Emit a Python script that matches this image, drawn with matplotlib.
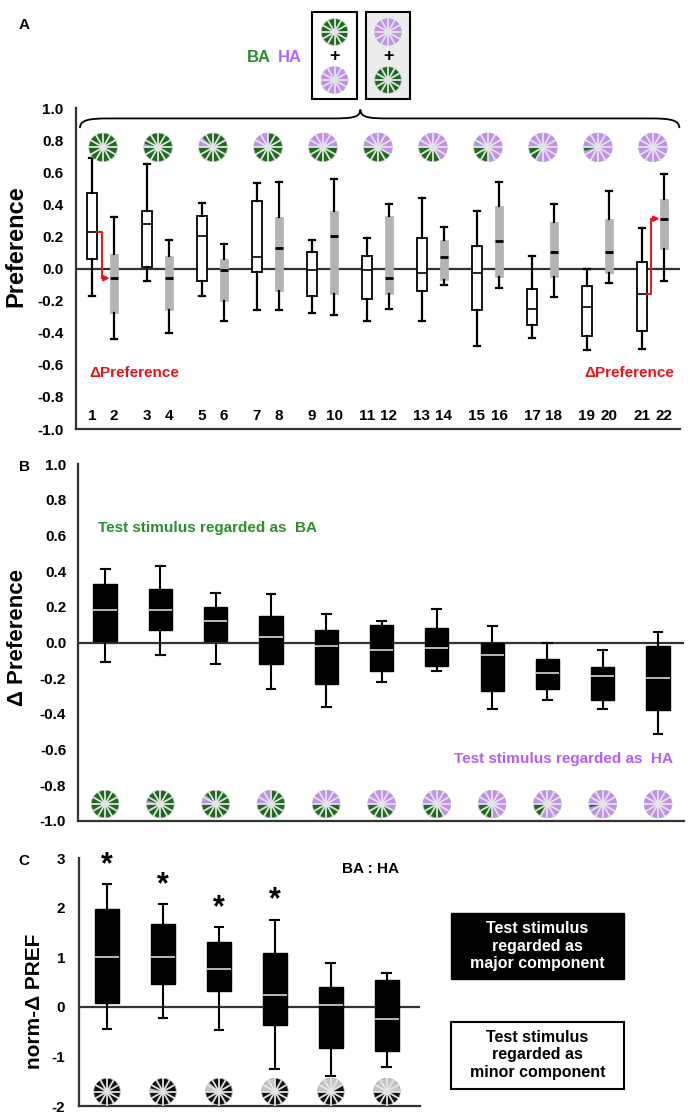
import numpy as np
import matplotlib
matplotlib.use("Agg")
from matplotlib import pyplot as plt
from matplotlib.patches import Circle, Wedge, Rectangle, PathPatch
from matplotlib.path import Path

plt.rcParams['font.family'] = ['Liberation Sans', 'DejaVu Sans']
plt.rcParams['font.weight'] = 'bold'

# ---- data ----
# panel A: white = test stimulus, gray = paired stimulus (whislo, q1, med, q3, whishi)
a_white = [
    [-0.17, 0.06, 0.23, 0.47, 0.69],
    [-0.08, 0.01, 0.28, 0.36, 0.65],
    [-0.17, -0.08, 0.20, 0.33, 0.41],
    [-0.26, -0.02, 0.07, 0.42, 0.53],
    [-0.28, -0.17, -0.01, 0.10, 0.18],
    [-0.33, -0.19, -0.01, 0.08, 0.19],
    [-0.33, -0.14, -0.03, 0.19, 0.44],
    [-0.48, -0.26, -0.03, 0.14, 0.36],
    [-0.43, -0.35, -0.25, -0.13, 0.08],
    [-0.51, -0.42, -0.24, -0.11, 0.00],
    [-0.50, -0.39, -0.16, 0.04, 0.25],
]
a_gray = [
    [-0.44, -0.28, -0.06, 0.09, 0.32],
    [-0.40, -0.26, -0.06, 0.08, 0.18],
    [-0.33, -0.20, -0.01, 0.06, 0.15],
    [-0.26, -0.14, 0.13, 0.32, 0.54],
    [-0.29, -0.16, 0.20, 0.36, 0.56],
    [-0.25, -0.16, -0.06, 0.33, 0.40],
    [-0.10, -0.07, 0.07, 0.18, 0.26],
    [-0.12, -0.05, 0.17, 0.39, 0.54],
    [-0.18, -0.05, 0.10, 0.29, 0.40],
    [-0.09, -0.03, 0.10, 0.31, 0.48],
    [-0.08, 0.12, 0.31, 0.43, 0.59],
]
a_labels = ["1", "2", "3", "4", "5", "6", "7", "8", "9", "10", "11",
            "12", "13", "14", "15", "16", "17", "18", "19", "20", "21", "22"]
# fraction of HA (purple) in each test stimulus
ha_fraction = [0.0, 0.04, 0.12, 0.25, 0.5, 0.58, 0.67, 0.75, 0.83, 0.96, 1.0]

# panel B: delta preference
b_stats = [
    [-0.11, 0.01, 0.18, 0.33, 0.41],
    [-0.07, 0.07, 0.18, 0.30, 0.43],
    [-0.12, 0.01, 0.12, 0.20, 0.28],
    [-0.26, -0.12, 0.03, 0.15, 0.27],
    [-0.36, -0.23, -0.02, 0.07, 0.16],
    [-0.22, -0.16, -0.04, 0.10, 0.12],
    [-0.16, -0.13, -0.03, 0.08, 0.19],
    [-0.37, -0.27, -0.07, 0.00, 0.09],
    [-0.32, -0.26, -0.17, -0.09, 0.00],
    [-0.37, -0.32, -0.19, -0.14, -0.04],
    [-0.51, -0.38, -0.20, -0.02, 0.06],
]

# panel C: normalised delta preference
c_stats = [
    [-0.45, 0.07, 1.00, 1.98, 2.47],
    [-0.22, 0.45, 1.00, 1.67, 2.07],
    [-0.46, 0.31, 0.77, 1.31, 1.61],
    [-1.26, -0.37, 0.24, 1.08, 1.76],
    [-1.39, -0.83, 0.03, 0.39, 0.89],
    [-1.22, -0.89, -0.25, 0.55, 0.69],
]
c_signif = [True, True, True, True, False, False]
minor_fraction = [0.0, 0.04, 0.12, 0.25, 0.42, 0.5]

pref_ticks = [-1.0, -0.8, -0.6, -0.4, -0.2, 0.0, 0.2, 0.4, 0.6, 0.8, 1.0]
norm_ticks = [-2, -1, 0, 1, 2, 3]

GREEN = "#1d6b1d"
PURPLE = "#c28ef2"
RED = "#e8141c"
W, H = 695, 1120

fig = plt.figure(figsize=(W / 100, H / 100), dpi=100)


def fig_rect(left, top, right, bottom):
    return [left / W, 1 - bottom / H, (right - left) / W, (bottom - top) / H]


def to_stats(rows):
    return [dict(whislo=r[0], q1=r[1], med=r[2], q3=r[3], whishi=r[4], fliers=[]) for r in rows]


def style_axis(ax, ylim, yticks, ylabels, pad, fs):
    ax.set_ylim(*ylim)
    ax.set_yticks(yticks)
    ax.set_yticklabels(ylabels, fontweight='bold', fontsize=fs)
    ax.set_xticks([])
    for s in ["top", "right"]:
        ax.spines[s].set_visible(False)
    for s in ["left", "bottom"]:
        ax.spines[s].set_linewidth(1.6)
        ax.spines[s].set_color("#333333")
    ax.tick_params(axis='y', length=0, pad=pad)
    ax.axhline(0, color="#333333", lw=1.6, zorder=1)


def wheel_at_px(cx, cy, d, frac, major, minor, spoke="#e4e4e4"):
    # cx, cy in display pixels (origin bottom-left)
    wax = fig.add_axes([(cx - d / 2) / W, (cy - d / 2) / H, d / W, d / H])
    wax.set_zorder(5)
    wax.set_xlim(-1.05, 1.05)
    wax.set_ylim(-1.05, 1.05)
    wax.set_aspect('equal')
    wax.axis('off')
    wax.add_patch(Circle((0, 0), 1, color=major, lw=0))
    if frac > 0:
        wax.add_patch(Wedge((0, 0), 1, 180 - frac * 360, 180, color=minor, lw=0))
    for k in range(6):
        a = np.deg2rad(k * 30)
        wax.plot([-np.cos(a), np.cos(a)], [-np.sin(a), np.sin(a)], color=spoke, lw=1.3)
    wax.add_patch(Circle((0, 0), 0.24, color="white", lw=0))
    wax.add_patch(Circle((0, 0), 1, fill=False, ec="#bbbbbb", lw=0.5))


def wheel_at_data(ax, x, y, d, frac, major, minor):
    px, py = ax.transData.transform((x, y))
    wheel_at_px(px, py, d, frac, major, minor)


# ================= Panel A =================
axA = fig.add_axes(fig_rect(76, 108, 680, 429))
pos_white = [2.5 * k for k in range(len(a_white))]
pos_gray = [2.5 * k + 1 for k in range(len(a_gray))]
axA.set_xlim(-0.73, 26.73)
style_axis(axA, (-1, 1), pref_ticks, ["{:.1f}".format(v) for v in pref_ticks], 9, 11)

axA.bxp(to_stats(a_white), positions=pos_white, widths=0.42, patch_artist=True,
        showfliers=False, manage_ticks=False, capwidths=0.25,
        boxprops=dict(facecolor="white", edgecolor="black", linewidth=1.3),
        medianprops=dict(color="black", linewidth=1.2),
        whiskerprops=dict(color="black", linewidth=1.6),
        capprops=dict(color="black", linewidth=1.6))
axA.bxp(to_stats(a_gray), positions=pos_gray, widths=0.38, patch_artist=True,
        showfliers=False, manage_ticks=False, capwidths=0.25,
        boxprops=dict(facecolor="#b3b3b3", edgecolor="#b3b3b3", linewidth=0.5),
        medianprops=dict(color="black", linewidth=2.0),
        whiskerprops=dict(color="black", linewidth=1.6),
        capprops=dict(color="black", linewidth=1.6))

all_pos = sorted(pos_white + pos_gray)
for p, lab in zip(all_pos, a_labels):
    axA.text(p, -0.92, lab, ha="center", va="center", fontsize=11, fontweight="bold")

axA.text(pos_white[0] - 0.1, -0.65, "\u0394Preference", color=RED, fontsize=11,
         fontweight="bold", ha="left", va="center")
axA.text(pos_gray[-1] + 0.45, -0.65, "\u0394Preference", color=RED, fontsize=11,
         fontweight="bold", ha="right", va="center")

# red arrows showing delta preference
for i in [0, len(a_white) - 1]:
    x_start = pos_white[i] + 0.21
    x_corner = x_start + 0.22
    m1 = a_white[i][2]
    m2 = a_gray[i][2]
    axA.plot([x_start, x_corner, x_corner], [m1, m1, m2], color=RED, lw=1.4, zorder=5)
    axA.annotate("", xy=(pos_gray[i] - 0.2, m2), xytext=(x_corner, m2),
                 arrowprops=dict(arrowstyle="-|>", color=RED, lw=1.4, mutation_scale=8,
                                 shrinkA=0, shrinkB=0), zorder=5)

# curly brace
x0, x1, xm = -0.55, 26.7, 12.2
yb, yl, yt = 0.875, 0.935, 0.99
verts = [(x0, yb), (x0, yl - 0.01), (x0 + 0.4, yl), (x0 + 1.3, yl),
         (xm - 1.3, yl),
         (xm - 0.4, yl), (xm, yl + 0.005), (xm, yt),
         (xm, yl + 0.005), (xm + 0.4, yl), (xm + 1.3, yl),
         (x1 - 1.3, yl),
         (x1 - 0.4, yl), (x1, yl - 0.01), (x1, yb)]
codes = [Path.MOVETO, Path.CURVE4, Path.CURVE4, Path.CURVE4,
         Path.LINETO,
         Path.CURVE4, Path.CURVE4, Path.CURVE4,
         Path.CURVE4, Path.CURVE4, Path.CURVE4,
         Path.LINETO,
         Path.CURVE4, Path.CURVE4, Path.CURVE4]
axA.add_patch(PathPatch(Path(verts, codes), fill=False, lw=1.3, color="black", clip_on=False))

# ================= Panel B =================
axB = fig.add_axes(fig_rect(78, 464, 684, 821))
pos_b = list(range(len(b_stats)))
axB.set_xlim(-0.49, 10.47)
style_axis(axB, (-1, 1), pref_ticks, ["{:.1f}".format(v) for v in pref_ticks], 8.5, 11)
axB.bxp(to_stats(b_stats), positions=pos_b, widths=0.42, patch_artist=True,
        showfliers=False, manage_ticks=False, capwidths=0.16,
        boxprops=dict(facecolor="black", edgecolor="black", linewidth=1),
        medianprops=dict(color="#c8c8c8", linewidth=1.3),
        whiskerprops=dict(color="black", linewidth=1.5),
        capprops=dict(color="black", linewidth=1.5))
axB.text(-0.13, 0.64, "Test stimulus regarded as  BA", color="#2a8f2a", fontsize=11,
         fontweight="bold", ha="left", va="center")
axB.text(10.28, -0.65, "Test stimulus regarded as  HA", color="#b45ef5", fontsize=11,
         fontweight="bold", ha="right", va="center")

# ================= Panel C =================
axC = fig.add_axes(fig_rect(79, 858, 420, 1106))
pos_c = list(range(len(c_stats)))
axC.set_xlim(-0.5, 5.59)
style_axis(axC, (-2, 3), norm_ticks, [str(v) for v in norm_ticks], 10, 11)
axC.bxp(to_stats(c_stats), positions=pos_c, widths=0.42, patch_artist=True,
        showfliers=False, manage_ticks=False, capwidths=0.16,
        boxprops=dict(facecolor="black", edgecolor="black", linewidth=1),
        medianprops=dict(color="#c8c8c8", linewidth=1.3),
        whiskerprops=dict(color="black", linewidth=1.5),
        capprops=dict(color="black", linewidth=1.5))
for p, row, sig in zip(pos_c, c_stats, c_signif):
    if sig:
        axC.text(p, row[4] + 0.08, "*", ha="center", va="bottom", fontsize=22, fontweight="bold")
axC.text(4.7, 2.78, "BA : HA", ha="center", va="center", fontsize=11, fontweight="bold")

# legend boxes for panel C
fig.patches.append(Rectangle((451 / W, 1 - 979 / H), 173 / W, 66 / H, transform=fig.transFigure,
                             facecolor="black", edgecolor="black", zorder=-1))
fig.patches.append(Rectangle((451 / W, 1 - 1089 / H), 173 / W, 67 / H, transform=fig.transFigure,
                             facecolor="white", edgecolor="black", lw=1.5, zorder=-1))
fig.text(537.5 / W, 1 - 946 / H, "Test stimulus\nregarded as\nmajor component", color="white",
         ha="center", va="center", fontsize=11.5, fontweight="bold", linespacing=1.2)
fig.text(537.5 / W, 1 - 1055 / H, "Test stimulus\nregarded as\nminor component", color="black",
         ha="center", va="center", fontsize=11.5, fontweight="bold", linespacing=1.2)

# axis labels and panel letters
fig.text(16 / W, 1 - 246 / H, "Preference", rotation=90, ha="center", va="center",
         fontsize=17, fontweight="bold")
fig.text(18 / W, 1 - 637 / H, "\u0394 Preference", rotation=90, ha="center", va="center",
         fontsize=16, fontweight="bold")
fig.text(35 / W, 1 - 1001 / H, "norm-\u0394 PREF", rotation=90, ha="center", va="center",
         fontsize=15, fontweight="bold")
for lab, y in [("A", 25), ("B", 467), ("C", 861)]:
    fig.text(24 / W, 1 - y / H, lab, ha="center", va="center", fontsize=11, fontweight="bold")

# top legend: BA / HA and the two mixture icons
fig.text(259 / W, 1 - 57 / H, "BA", color="#2e8b2e", ha="center", va="center",
         fontsize=12, fontweight="bold")
fig.text(290 / W, 1 - 57 / H, "HA", color="#b266ff", ha="center", va="center",
         fontsize=12, fontweight="bold")
fig.patches.append(Rectangle((312 / W, 1 - 99 / H), 45 / W, 87 / H, transform=fig.transFigure,
                             facecolor="white", edgecolor="black", lw=1.5, zorder=-1))
fig.patches.append(Rectangle((366 / W, 1 - 99 / H), 44 / W, 87 / H, transform=fig.transFigure,
                             facecolor="#ececec", edgecolor="black", lw=1.5, zorder=-1))
for cx, top_frac, bot_frac in [(334.5, 0.0, 1.0), (388, 1.0, 0.0)]:
    wheel_at_px(cx, H - 32, 28, top_frac, GREEN, PURPLE)
    wheel_at_px(cx, H - 80, 28, bot_frac, GREEN, PURPLE)
    fig.text(cx / W, 1 - 57 / H, "+", ha="center", va="center", fontsize=13, fontweight="bold")

# stimulus wheels
for k, f in enumerate(ha_fraction):
    wheel_at_data(axA, (pos_white[k] + pos_gray[k]) / 2, 0.755, 30, f, GREEN, PURPLE)
    wheel_at_data(axB, pos_b[k], -0.905, 29, f, GREEN, PURPLE)
for k, f in enumerate(minor_fraction):
    wheel_at_data(axC, pos_c[k], -1.71, 28, f, "#111111", "#c4c4c4")

fig.savefig("out.png", dpi=100)
